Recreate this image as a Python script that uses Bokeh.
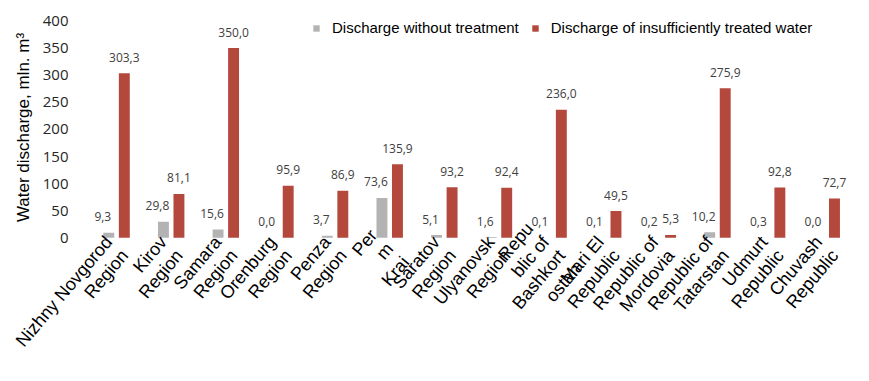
import math
from bokeh.plotting import figure
from bokeh.models import ColumnDataSource, Range1d, FixedTicker, Legend, LegendItem, Title
from bokeh.transform import dodge
from bokeh.core.properties import value
from bokeh.embed import file_html
from bokeh.resources import INLINE

regions = ["Nizhny Novgorod\nRegion", "Kirov\nRegion", "Samara\nRegion", "Orenburg\nRegion",
           "Penza\nRegion", "Per\nm\nKrai", "Saratov\nRegion", "Ulyanovsk\nRegion",
           "Repu\nblic of\nBashkort\nostan", "Mari El\nRepublic", "Republic of\nMordovia",
           "Republic of\nTatarstan", "Udmurt\nRepublic", "Chuvash\nRepublic"]
without_treatment = [9.3, 29.8, 15.6, 0.0, 3.7, 73.6, 5.1, 1.6, 0.1, 0.1, 0.2, 10.2, 0.3, 0.0]
insufficiently_treated = [303.3, 81.1, 350.0, 95.9, 86.9, 135.9, 93.2, 92.4, 236.0, 49.5, 5.3, 275.9, 92.8, 72.7]
y_ticks = [0, 50, 100, 150, 200, 250, 300, 350, 400]

def fmt(v):
    return f"{v:.1f}".replace(".", ",")

src = ColumnDataSource(dict(
    x=list(range(len(regions))),
    w=without_treatment,
    t=insufficiently_treated,
    wl=[fmt(v) for v in without_treatment],
    tl=[fmt(v) for v in insufficiently_treated],
))

p = figure(width=869, height=381, x_range=Range1d(-0.66, 13.6), y_range=Range1d(-3, 410),
           output_backend="svg", toolbar_location=None,
           min_border_left=80, min_border_right=10, min_border_top=15, min_border_bottom=142)
p.outline_line_color = None
p.xgrid.visible = False
p.ygrid.visible = False

GRAY = "#b3b3b3"
RED = "#b4483c"
off = 0.142
bw = 0.2

r1 = p.vbar(x=dodge("x", -off), top="w", width=bw, bottom=0, source=src, fill_color=GRAY, line_color=None)
r2 = p.vbar(x=dodge("x", off), top="t", width=bw, bottom=0, source=src, fill_color=RED, line_color=None)

p.text(x=dodge("x", -off), y="w", text="wl", source=src, x_offset=-6, y_offset=-16,
       text_align="center", text_baseline="middle", text_font=value("Open Sans"),
       text_font_size="12px", text_color="#404040")
p.text(x=dodge("x", off), y="t", text="tl", source=src, x_offset=0, y_offset=-16,
       text_align="center", text_baseline="middle", text_font=value("Open Sans"),
       text_font_size="12px", text_color="#404040")

xa = p.xaxis[0]
xa.ticker = FixedTicker(ticks=list(range(len(regions))))
xa.major_label_overrides = {i: lab for i, lab in enumerate(regions)}
xa.major_label_orientation = 0.87
xa.axis_line_color = None
xa.major_tick_line_color = None
xa.minor_tick_line_color = None
xa.major_label_text_font = "Liberation Sans"
xa.major_label_text_font_size = "18px"
xa.major_label_text_color = "#000000"
xa.major_label_text_line_height = 1.05
xa.major_label_standoff = 0

ya = p.yaxis[0]
ya.ticker = FixedTicker(ticks=y_ticks)
ya.axis_line_color = None
ya.major_tick_line_color = None
ya.minor_tick_line_color = None
ya.major_label_text_font = "Open Sans"
ya.major_label_text_font_size = "15px"
ya.major_label_text_color = "#262626"
ya.major_label_standoff = 6

ytitle = Title(text="Water discharge, mln. m³", align="center", offset=14, standoff=14,
               text_font="Liberation Sans", text_font_style="normal", text_font_size="17px",
               text_color="#000000")
p.add_layout(ytitle, "left")

legend = Legend(items=[LegendItem(label="Discharge without treatment", renderers=[r1]),
                       LegendItem(label="Discharge of insufficiently treated water", renderers=[r2])],
                orientation="horizontal", location=(232, 203),
                glyph_width=8, glyph_height=8, label_standoff=12, spacing=12,
                label_text_font="Liberation Sans", label_text_font_size="15px",
                label_text_color="#000000", border_line_color=None, background_fill_alpha=0,
                padding=0, margin=0)
p.add_layout(legend)

open("out.html", "w").write(file_html(p, INLINE))
